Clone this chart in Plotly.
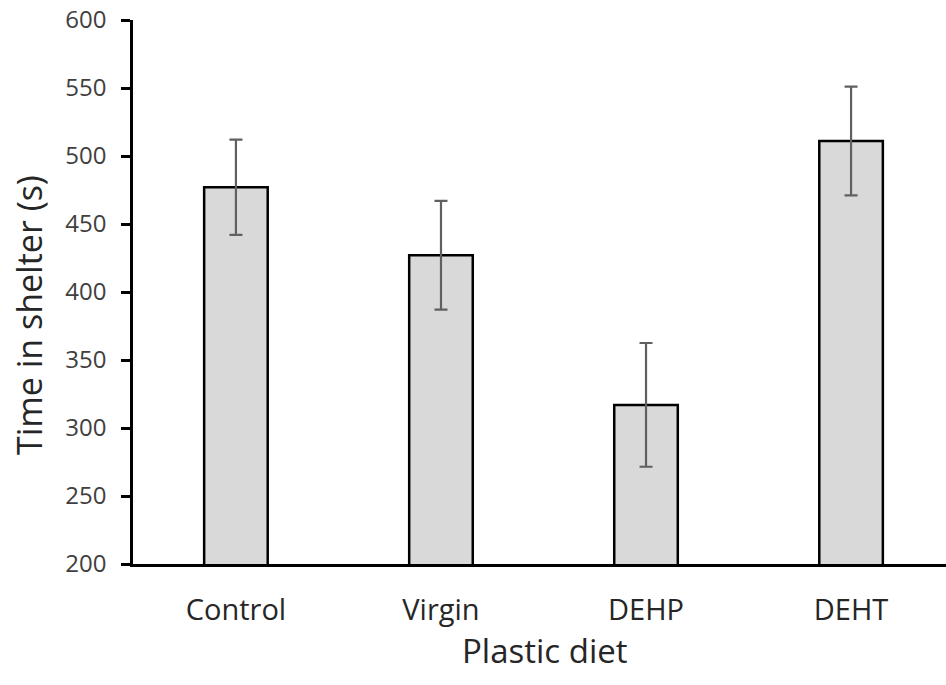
import plotly.graph_objects as go

categories = ["Control", "Virgin", "DEHP", "DEHT"]
means = [477, 427, 317, 511]
errors = [35, 40, 45.5, 40]
y_ticks = [200, 250, 300, 350, 400, 450, 500, 550, 600]

fig = go.Figure()
fig.add_trace(go.Bar(
    x=categories, y=means, base=0,
    width=0.31,
    marker=dict(color="#d9d9d9", line=dict(color="black", width=2.5)),
    error_y=dict(type="data", array=errors, visible=True, color="#606060", thickness=2.2, width=6.5),
))

font_family = "Open Sans, Noto Sans, sans-serif"
fig.update_layout(
    width=946, height=685,
    margin=dict(l=133, r=0, t=20, b=121, autoexpand=False),
    plot_bgcolor="white", paper_bgcolor="white",
    showlegend=False,
    font=dict(family=font_family, color="#262626"),
    xaxis=dict(
        type="category",
        range=[-0.502, 3.463],
        automargin=False,
        showline=True, linecolor="black", linewidth=2.5,
        ticks="", showgrid=False,
        tickfont=dict(size=29, color="#262626"),
        ticklabelstandoff=18,
    ),
    yaxis=dict(
        range=[200, 600],
        tickvals=y_ticks,
        automargin=False,
        showline=True, linecolor="black", linewidth=2.5,
        ticks="outside", ticklen=9, tickwidth=2.5, tickcolor="black",
        showgrid=False, zeroline=False,
        tickfont=dict(size=24, color="#404040"),
        ticklabelstandoff=10,
        ticklabeloverflow="allow",
    ),
    annotations=[
        dict(text="Plastic diet", xref="paper", yref="paper", x=0.507, y=0,
             xanchor="center", yanchor="middle", yshift=-86, showarrow=False,
             font=dict(size=33, color="#262626")),
        dict(text="Time in shelter (s)", xref="paper", yref="paper", x=0, y=0.4577,
             xanchor="center", yanchor="middle", xshift=-104, textangle=-90, showarrow=False,
             font=dict(size=34, color="#262626")),
    ],
)

fig.write_html("out.html", config={"displayModeBar": False},
               post_script="document.body.style.margin='0';")
